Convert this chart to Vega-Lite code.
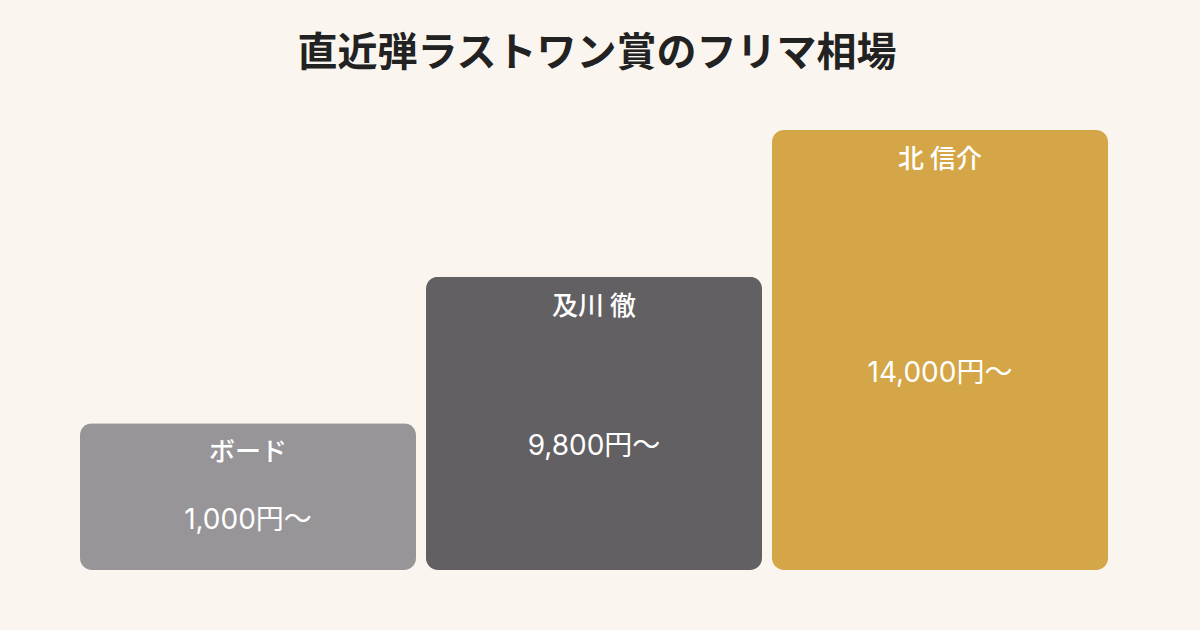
{
  "$schema": "https://vega.github.io/schema/vega-lite/v6.json",
  "width": 1028,
  "height": 440,
  "autosize": {"type": "none"},
  "padding": {"left": 80, "top": 130, "right": 92, "bottom": 60},
  "background": "#FAF6EF",
  "config": {"view": {"stroke": null}, "font": "Noto Sans CJK JP"},
  "title": {
    "text": "直近弾ラストワン賞のフリマ相場",
    "font": "Noto Sans CJK JP",
    "fontSize": 40,
    "fontWeight": "bold",
    "color": "#222222",
    "anchor": "middle",
    "offset": 56,
    "dx": 3
  },
  "data": {
    "values": [
      {"name": "ボード", "price": "1,000円〜", "rank": 1},
      {"name": "及川 徹", "price": "9,800円〜", "rank": 2},
      {"name": "北 信介", "price": "14,000円〜", "rank": 3}
    ]
  },
  "encoding": {
    "x": {
      "field": "name",
      "type": "nominal",
      "sort": null,
      "axis": null,
      "scale": {"paddingInner": 0.0289, "paddingOuter": 0}
    }
  },
  "layer": [
    {
      "mark": {"type": "bar", "cornerRadius": 12},
      "encoding": {
        "y": {"field": "rank", "type": "quantitative", "axis": null, "scale": {"domain": [0, 3]}},
        "color": {
          "field": "name",
          "type": "nominal",
          "legend": null,
          "scale": {"domain": ["ボード", "及川 徹", "北 信介"], "range": ["#979598", "#636064", "#D4A647"]}
        }
      }
    },
    {
      "mark": {"type": "text", "color": "white", "font": "Noto Sans CJK JP", "fontSize": 26, "fontWeight": 500, "baseline": "middle", "dy": 30},
      "encoding": {
        "y": {"field": "rank", "type": "quantitative"},
        "text": {"field": "name"}
      }
    },
    {
      "transform": [{"calculate": "datum.rank / 2", "as": "mid"}],
      "mark": {"type": "text", "color": "white", "font": "Inter, Noto Sans CJK JP", "fontSize": 28, "fontWeight": 400, "baseline": "middle", "dy": 24},
      "encoding": {
        "y": {"field": "mid", "type": "quantitative"},
        "text": {"field": "price"}
      }
    }
  ]
}
